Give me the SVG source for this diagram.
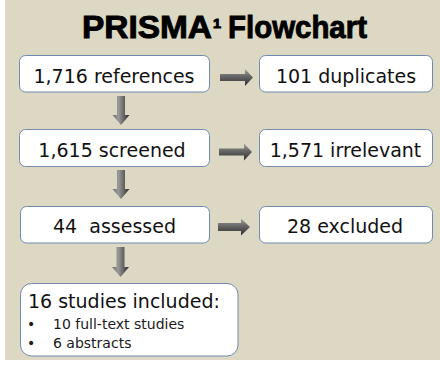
<svg xmlns="http://www.w3.org/2000/svg" width="440" height="369" viewBox="0 0 440 369">
  <defs>
    <linearGradient id="gradRight" x1="0" y1="0" x2="0" y2="1">
      <stop offset="0" stop-color="#a4a4a4"/>
      <stop offset="0.4" stop-color="#6a6a6a"/>
      <stop offset="1" stop-color="#2e2e2e"/>
    </linearGradient>
    <linearGradient id="gradDown" x1="0" y1="0" x2="1" y2="0">
      <stop offset="0" stop-color="#6e6e6e"/>
      <stop offset="0.35" stop-color="#9a9a9a"/>
      <stop offset="1" stop-color="#2e2e2e"/>
    </linearGradient>
  </defs>
  <style>
    .box { fill: #ffffff; stroke: #6f8aad; stroke-width: 1; }
    .label { font-family: "DejaVu Sans", Verdana, sans-serif; font-size: 19px; fill: #111111; text-anchor: middle; }
    .bullet { font-family: "DejaVu Sans", Verdana, sans-serif; font-size: 14px; fill: #1a1a1a; }
    .title { font-family: "Liberation Sans", Arial, sans-serif; font-weight: 900; fill: #000000; stroke: #000000; stroke-width: 0.9; }
    .arrowR { fill: url(#gradRight); }
    .arrowD { fill: url(#gradDown); }
  </style>

  <!-- backdrop panel -->
  <rect x="5" y="0" width="435" height="360" fill="#dcd8c3"/>

  <!-- heading -->
  <g id="title">
    <text class="title" x="82" y="38" font-size="31" textLength="130" lengthAdjust="spacingAndGlyphs">PRISMA</text>
    <text class="title" x="213" y="28" font-size="13" stroke-width="0.3" textLength="8" lengthAdjust="spacingAndGlyphs">1</text>
    <text class="title" x="228" y="38" font-size="31" textLength="139" lengthAdjust="spacingAndGlyphs">Flowchart</text>
  </g>

  <!-- connectors -->
  <g id="connectors">
    <!-- horizontal arrows -->
    <path class="arrowR" d="M220,74 H245 V69 L253,77.5 L245,86 V81 H220 Z"/>
    <path class="arrowR" d="M219,148.5 H244 V143.5 L252,152 L244,160.5 V155.5 H219 Z"/>
    <path class="arrowR" d="M218,223 H241 V218.5 L250,227 L241,235.5 V231 H218 Z"/>
    <!-- vertical arrows -->
    <path class="arrowD" d="M117,96 H125 V115 H129.5 L121,125 L112.5,115 H117 Z"/>
    <path class="arrowD" d="M117,170 H125 V189 H129.5 L121,199 L112.5,189 H117 Z"/>
    <path class="arrowD" d="M116.5,247 H124.5 V267 H129 L120.5,277 L112,267 H116.5 Z"/>
  </g>

  <g id="node-references">
    <rect class="box" x="19.5" y="55.5" width="190" height="36.5" rx="6"/>
    <text class="label" x="114" y="83">1,716 references</text>
  </g>

  <g id="node-duplicates">
    <rect class="box" x="259.5" y="55.5" width="173" height="36.5" rx="6"/>
    <text class="label" x="346" y="83">101 duplicates</text>
  </g>

  <g id="node-screened">
    <rect class="box" x="19.5" y="129.5" width="190" height="37" rx="6"/>
    <text class="label" x="112" y="157">1,615 screened</text>
  </g>

  <g id="node-irrelevant">
    <rect class="box" x="259.5" y="129.5" width="173" height="37" rx="6"/>
    <text class="label" x="345.5" y="157">1,571 irrelevant</text>
  </g>

  <g id="node-assessed">
    <rect class="box" x="20.5" y="206.5" width="189" height="36.5" rx="6"/>
    <text class="label" x="114.5" y="233" xml:space="preserve">44  assessed</text>
  </g>

  <g id="node-excluded">
    <rect class="box" x="259.5" y="206.5" width="173" height="36.5" rx="6"/>
    <text class="label" x="345" y="233">28 excluded</text>
  </g>

  <g id="node-included">
    <rect class="box" x="20.5" y="283.5" width="217.5" height="72.5" rx="11"/>
    <text class="label" x="28" y="308" style="text-anchor:start">16 studies included:</text>
    <text class="bullet" x="27" y="329" font-size="12">•</text>
    <text class="bullet" x="53" y="329">10 full-text studies</text>
    <text class="bullet" x="27" y="348" font-size="12">•</text>
    <text class="bullet" x="53" y="348">6 abstracts</text>
  </g>
</svg>
